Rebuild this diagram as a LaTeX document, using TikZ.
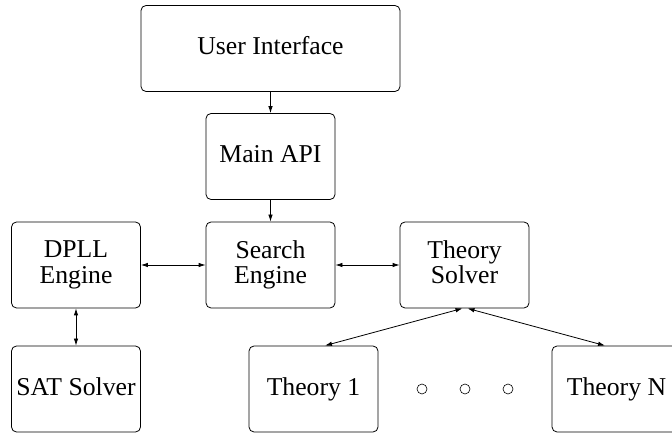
\documentclass[tikz,border=0pt]{standalone}
\usepackage{fontspec}
\setmainfont{Liberation Serif}
\usetikzlibrary{shapes,arrows.meta,positioning,calc}

\begin{document}
\begin{tikzpicture}[
    x=1pt, y=-1pt,
    module/.style={rectangle, draw, line width=0.8pt, rounded corners=5pt, minimum width=129pt, minimum height=86pt, inner sep=0pt, align=center, font=\fontsize{25.7}{25.5}\selectfont,
        execute at begin node=\vphantom{T}, execute at end node=\vphantom{g}},
    arrow/.style={-{Latex[length=7pt,width=4.5pt]}, line width=0.8pt},
    biarrow/.style={{Latex[length=7pt,width=4.5pt]}-{Latex[length=7pt,width=4.5pt]}, line width=0.8pt}
]
    \useasboundingbox (0,0) rectangle (672,435);

    % top
    \node[module, minimum width=259pt] (ui) at (270.5, 48.5) {User Interface};
    \node[module] (api) at (270.5, 156.5) {Main API};

    % middle row
    \node[module] (dpll) at (76, 265) {DPLL\\Engine};
    \node[module] (search) at (270.5, 265) {Search\\Engine};
    \node[module] (solver) at (464.5, 265) {Theory\\Solver};

    % bottom row
    \node[module] (sat) at (76, 389) {SAT Solver};
    \node[module] (th1) at (313.5, 389) {Theory 1};
    \node[module] (thn) at (616.5, 389) {Theory N};

    % dots
    \foreach \x/\n in {422/1, 465/2, 508/3}
        \node[circle, draw, line width=0.6pt, minimum size=10pt, inner sep=0pt] (dot\n) at (\x, 389) {};

    % arrows
    \draw[arrow] (ui) -- (api);
    \draw[arrow] (api) -- (search);
    \draw[biarrow] (dpll) -- (search);
    \draw[biarrow] (search) -- (solver);
    \draw[biarrow] (dpll) -- (sat);
    \draw[biarrow] ([xshift=-2pt]solver.south) -- ([xshift=11.5pt]th1.north);
    \draw[biarrow] ([xshift=3pt]solver.south) -- ([xshift=-11.5pt]thn.north);
\end{tikzpicture}
\end{document}
